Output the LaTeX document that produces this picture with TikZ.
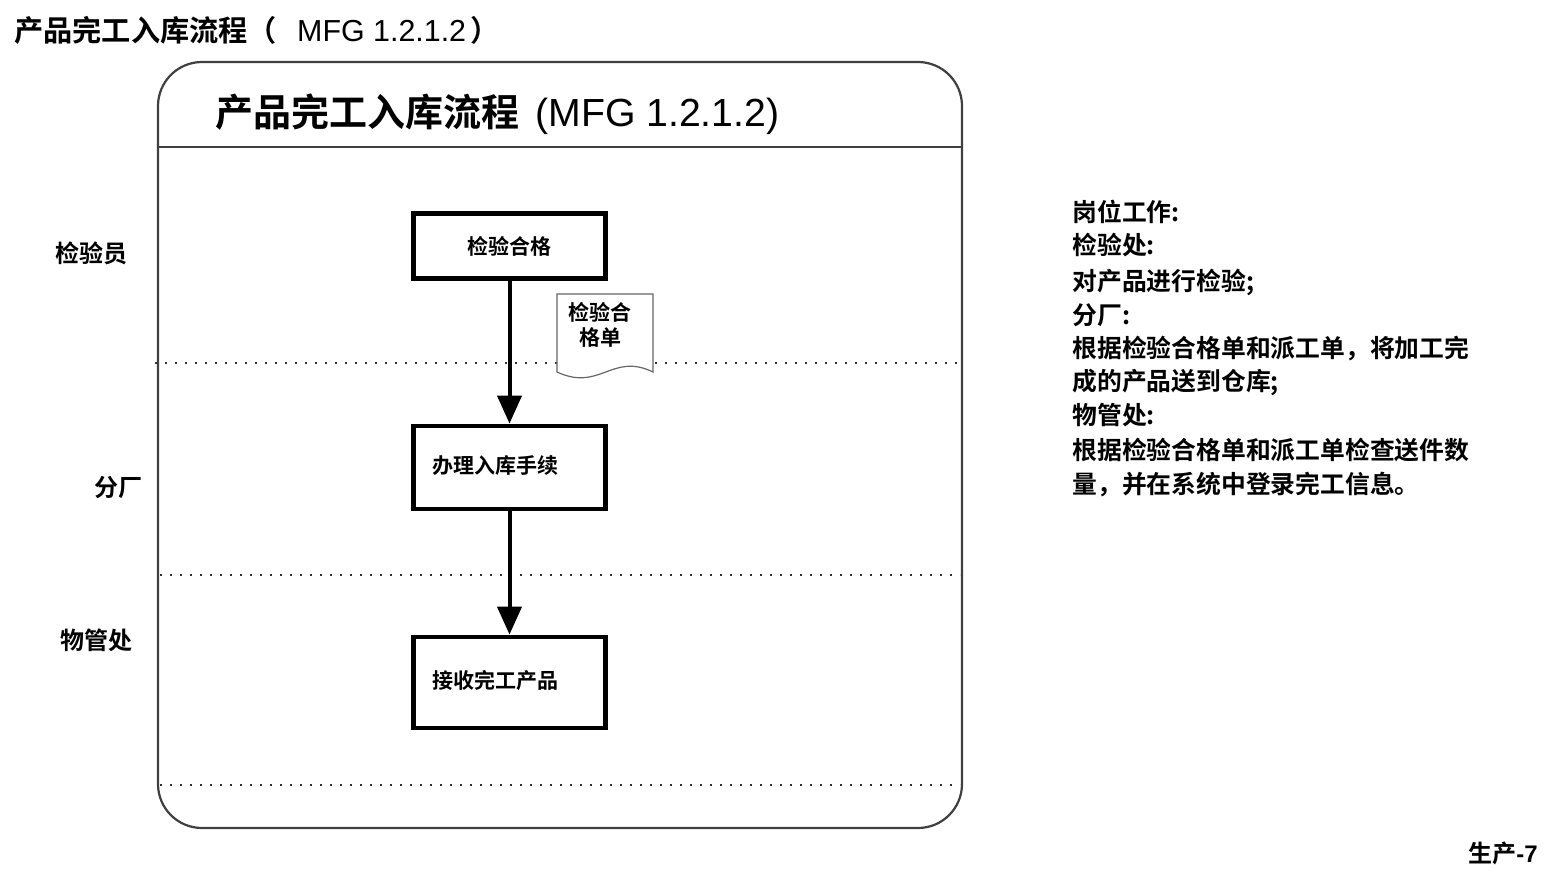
\documentclass[tikz,border=0pt]{standalone}
\usepackage{fontspec}
\setmainfont{Liberation Sans}
\newfontfamily\cjk{Noto Sans CJK SC}[BoldFont={Noto Sans CJK SC Bold}]
\usetikzlibrary{arrows.meta}
\newcommand{\fsz}[1]{\fontsize{#1}{#1}\selectfont}
\begin{document}
\begin{tikzpicture}[x=0.5pt,y=-0.5pt,
  framestyle/.style={draw=black!75,line width=1.1pt},
  lanesep/.style={draw=black!80,line width=1.3pt,dash pattern=on 0.8pt off 4.2pt},
  stepbox/.style={draw=black,line width=2.4pt,fill=white,minimum width=96pt,minimum height=#1,inner sep=0pt},
  boxtxt/.style={font=\cjk\bfseries\fsz{10.5pt}},
  lanelbl/.style={font=\cjk\bfseries\fsz{12pt}},
  rtxt/.style={font=\cjk\bfseries\fsz{12.4pt},anchor=west,inner sep=0pt},
  flow/.style={draw=black,line width=2pt,-{Triangle[width=12pt,length=14pt]}},
  docshape/.style={draw=black!60,line width=0.6pt,fill=white}
]
\useasboundingbox (0,0) rectangle (1554,878);
% page title
\node[anchor=west,inner sep=0pt] (ptitle) at (14,30)
  {\fsz{14.6pt}{\cjk\bfseries 产品完工入库流程（}\hspace{10pt}{\fsz{15.2pt}MFG 1.2.1.2}\hspace{2pt}{\cjk\bfseries ）}};
% frame
\draw[framestyle,rounded corners=22pt] (158,62) rectangle (962,828);
\draw[framestyle] (158,147) -- (962,147);
\node[anchor=west,inner sep=0pt] (ftitle) at (215,114)
  {\fsz{19pt}{\cjk\bfseries 产品完工入库流程}\hspace{8pt}{\fsz{19.6pt}(MFG 1.2.1.2)}};
% lane separators
\draw[lanesep] (155,363) -- (958,363);
\draw[lanesep] (160,575) -- (960,575);
\draw[lanesep] (160,785) -- (960,785);
% lane labels
\node[lanelbl] (l1) at (91,253) {检验员};
\node[lanelbl] (l2) at (118,488) {分厂};
\node[lanelbl] (l3) at (97,640) {物管处};
% document
\path[docshape] (557,294) -- (653,294) -- (653,372) .. controls (612,352) and (600,392) .. (557,372) -- cycle;
\node[font=\cjk\bfseries\fsz{10.5pt},align=center,inner sep=0pt] (doc) at (600,325) {检验合\\[2pt]格单};
% boxes
\node[stepbox=32.5pt,boxtxt] (b1) at (509.5,246) {检验合格};
\node[stepbox=41.5pt] (b2) at (509.5,467.5) {};
\node[boxtxt,anchor=west,inner sep=0pt] (t2) at (432,466) {办理入库手续};
\node[stepbox=45.5pt] (b3) at (509.5,682.5) {};
\node[boxtxt,anchor=west,inner sep=0pt] (t3) at (432,681) {接收完工产品};
% arrows
\draw[flow] (b1.south) -- (b2.north);
\draw[flow] (b2.south) -- (b3.north);
% right text
\node[rtxt] (r1) at (1072,212) {岗位工作:};
\node[rtxt] (r2) at (1072,245) {检验处:};
\node[rtxt] (r3) at (1072,282) {对产品进行检验;};
\node[rtxt] (r4) at (1072,315) {分厂:};
\node[rtxt] (r5) at (1072,349) {根据检验合格单和派工单，将加工完};
\node[rtxt] (r6) at (1072,382) {成的产品送到仓库;};
\node[rtxt] (r7) at (1072,415) {物管处:};
\node[rtxt] (r8) at (1072,450) {根据检验合格单和派工单检查送件数};
\node[rtxt] (r9) at (1072,485) {量，并在系统中登录完工信息。};
% page number
\node[anchor=east,inner sep=0pt] (pg) at (1538,853) {\fsz{12pt}\bfseries{\cjk 生产}-7};
\end{tikzpicture}
\end{document}
